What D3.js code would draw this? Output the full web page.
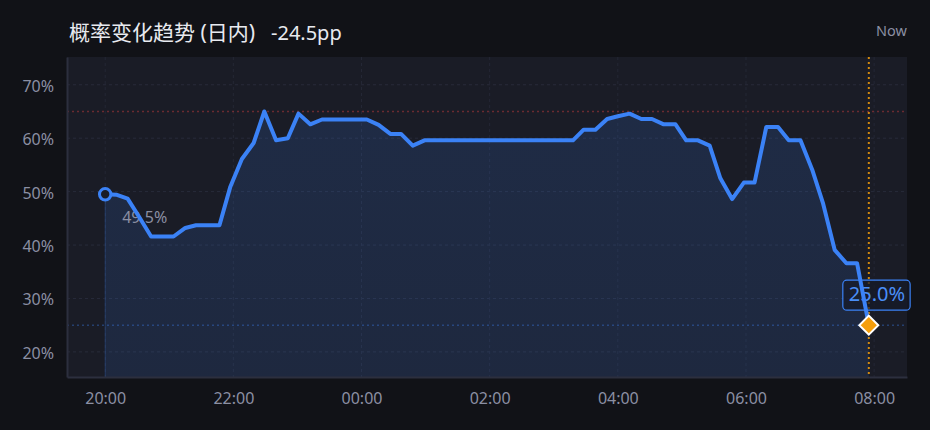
<!DOCTYPE html>
<html>
<head>
<meta charset="utf-8">
<script src="https://cdn.jsdelivr.net/npm/d3@7"></script>
<style>
  html, body { margin: 0; padding: 0; background: #111217; }
  svg { display: block; font-family: "Noto Sans", "Noto Sans CJK SC", sans-serif; }
</style>
</head>
<body>
<svg id="canvas" width="930" height="430"></svg>
<script>
// intraday samples
const times = [
  '20:00', '20:11', '20:21', '20:32', '20:43', '20:53', '21:04', '21:15', '21:25', '21:36',
  '21:47', '21:57', '22:08', '22:19', '22:29', '22:40', '22:51', '23:01', '23:12', '23:23',
  '23:33', '23:44', '23:55', '00:05', '00:16', '00:27', '00:37', '00:48', '00:59', '01:09',
  '01:20', '01:31', '01:41', '01:52', '02:03', '02:14', '02:24', '02:35', '02:46', '02:56',
  '03:07', '03:18', '03:28', '03:39', '03:50', '04:00', '04:11', '04:22', '04:32', '04:43',
  '04:54', '05:04', '05:15', '05:26', '05:36', '05:47', '05:58', '06:08', '06:19', '06:30',
  '06:40', '06:51', '07:02', '07:12', '07:23', '07:34', '07:44', '07:55'
]
const probs = [
  49.5, 49.4, 48.7, 45.2, 41.6, 41.6, 41.6, 43.2, 43.7, 43.7,
  43.7, 50.8, 56.1, 59.1, 65.0, 59.6, 60.0, 64.6, 62.6, 63.5,
  63.5, 63.5, 63.5, 63.5, 62.5, 60.8, 60.8, 58.6, 59.6, 59.6,
  59.6, 59.6, 59.6, 59.6, 59.6, 59.6, 59.6, 59.6, 59.6, 59.6,
  59.6, 59.6, 61.6, 61.6, 63.6, 64.1, 64.6, 63.6, 63.6, 62.6,
  62.6, 59.6, 59.6, 58.6, 52.5, 48.6, 51.7, 51.7, 62.1, 62.1,
  59.6, 59.6, 54.1, 47.9, 39.1, 36.6, 36.6, 25.0
]
const yTicks = [20, 30, 40, 50, 60, 70]
const titleText = '概率变化趋势 (日内)'
const nowText = 'Now'

const width = 930
const height = 430
const margin = { top: 57, right: 23, bottom: 53, left: 67 }

let canvas = d3.select('#canvas')

// times before noon belong to the next day
function parseTime(s) {
  let [h, m] = s.split(':').map(Number)
  return new Date(2024, 0, h >= 12 ? 1 : 2, h, m)
}

let data = times.map((t, i) => ({ time: parseTime(t), value: probs[i] }))
let first = data[0]
let last = data[data.length - 1]
let maxVal = d3.max(probs)

let span = last.time - first.time
let xScale = d3.scaleTime()
  .domain([new Date(+first.time - span * 0.05), new Date(+last.time + span * 0.05)])
  .range([margin.left, width - margin.right])

let yScale = d3.scaleLinear()
  .domain([15.3, 75.2])
  .range([height - margin.bottom, margin.top])

let plotW = width - margin.left - margin.right
let plotH = height - margin.top - margin.bottom
let bottomY = height - margin.bottom

// plot background
canvas.append('rect')
  .attr('x', margin.left)
  .attr('y', margin.top)
  .attr('width', plotW)
  .attr('height', plotH)
  .attr('fill', '#1a1c26')

let defs = canvas.append('defs')
let grad = defs.append('linearGradient')
  .attr('id', 'areaFill')
  .attr('x1', 0).attr('y1', 0).attr('x2', 0).attr('y2', 1)
grad.append('stop').attr('offset', '0%').attr('stop-color', '#3b82f6').attr('stop-opacity', 0.15)
grad.append('stop').attr('offset', '100%').attr('stop-color', '#3b82f6').attr('stop-opacity', 0.12)

// grid
let xTickVals = xScale.ticks(d3.timeHour.every(2))

canvas.append('g')
  .selectAll('line')
  .data(yTicks)
  .enter()
  .append('line')
  .attr('x1', margin.left)
  .attr('x2', width - margin.right)
  .attr('y1', (d) => yScale(d))
  .attr('y2', (d) => yScale(d))
  .attr('stroke', '#282b3a')
  .attr('stroke-dasharray', '3,3')

canvas.append('g')
  .selectAll('line')
  .data(xTickVals)
  .enter()
  .append('line')
  .attr('x1', (d) => xScale(d))
  .attr('x2', (d) => xScale(d))
  .attr('y1', margin.top)
  .attr('y2', bottomY)
  .attr('stroke', '#242735')
  .attr('stroke-dasharray', '3,3')

// area under the line
let area = d3.area()
  .x((d) => xScale(d.time))
  .y0(bottomY)
  .y1((d) => yScale(d.value))

canvas.append('path')
  .datum(data)
  .attr('d', area)
  .attr('fill', 'url(#areaFill)')

canvas.append('line')
  .attr('x1', xScale(first.time))
  .attr('x2', xScale(first.time))
  .attr('y1', yScale(first.value))
  .attr('y2', bottomY)
  .attr('stroke', '#3b82f6')
  .attr('stroke-opacity', 0.25)
  .attr('stroke-width', 1)

// reference lines: session high, current value, now
canvas.append('line')
  .attr('x1', margin.left)
  .attr('x2', width - margin.right)
  .attr('y1', yScale(maxVal))
  .attr('y2', yScale(maxVal))
  .attr('stroke', '#ef4444')
  .attr('stroke-opacity', 0.38)
  .attr('stroke-width', 1.5)
  .attr('stroke-dasharray', '2,3')

canvas.append('line')
  .attr('x1', margin.left)
  .attr('x2', width - margin.right)
  .attr('y1', yScale(last.value))
  .attr('y2', yScale(last.value))
  .attr('stroke', '#3b82f6')
  .attr('stroke-opacity', 0.35)
  .attr('stroke-width', 1.5)
  .attr('stroke-dasharray', '2,3')

canvas.append('line')
  .attr('x1', xScale(last.time))
  .attr('x2', xScale(last.time))
  .attr('y1', margin.top)
  .attr('y2', bottomY)
  .attr('stroke', '#f59e0b')
  .attr('stroke-opacity', 0.85)
  .attr('stroke-width', 2)
  .attr('stroke-dasharray', '2,3')

// axes
let yAxis = d3.axisLeft(yScale)
  .tickValues(yTicks)
  .tickSize(0)
  .tickPadding(13)
  .tickFormat((d) => d + '%')

let xAxis = d3.axisBottom(xScale)
  .tickValues(xTickVals)
  .tickSize(0)
  .tickPadding(16)
  .tickFormat(d3.timeFormat('%H:%M'))

let gy = canvas.append('g')
  .attr('transform', 'translate(' + margin.left + ',0)')
  .call(yAxis)
let gx = canvas.append('g')
  .attr('transform', 'translate(0,' + bottomY + ')')
  .call(xAxis)

gy.selectAll('text').attr('dy', '0.4em')

;[gx, gy].forEach((g) => {
  g.select('.domain').attr('stroke', '#2c2f3e').attr('stroke-width', 2)
  g.selectAll('text')
    .attr('fill', '#8b8fa3')
    .style('font-size', '16px')
    .style('font-family', '"Noto Sans", sans-serif')
})

// start marker label
canvas.append('text')
  .attr('x', xScale(first.time) + 17)
  .attr('y', yScale(first.value) + 29)
  .attr('fill', '#8b8fa3')
  .style('font-size', '16px')
  .text(first.value.toFixed(1) + '%')

// current value badge
let badge = canvas.append('g')
let badgeText = badge.append('text')
  .attr('x', xScale(last.time) - 20)
  .attr('y', yScale(last.value) - 24)
  .attr('fill', '#4a8ef7')
  .style('font-size', '20px')
  .text(last.value.toFixed(1) + '%')
let bb = badgeText.node().getBBox()
badge.insert('rect', 'text')
  .attr('x', bb.x - 6)
  .attr('y', bb.y)
  .attr('width', bb.width + 11)
  .attr('height', bb.height + 3)
  .attr('rx', 4)
  .attr('fill', '#161a28')
  .attr('fill-opacity', 0.7)
  .attr('stroke', '#3b82f6')
  .attr('stroke-width', 1.2)

// the line
let line = d3.line()
  .x((d) => xScale(d.time))
  .y((d) => yScale(d.value))

canvas.append('path')
  .datum(data)
  .attr('d', line)
  .attr('fill', 'none')
  .attr('stroke', '#3b82f6')
  .attr('stroke-width', 4)
  .attr('stroke-linejoin', 'round')
  .attr('stroke-linecap', 'round')

canvas.append('circle')
  .attr('cx', xScale(first.time))
  .attr('cy', yScale(first.value))
  .attr('r', 5.7)
  .attr('fill', '#1a1c26')
  .attr('stroke', '#3b82f6')
  .attr('stroke-width', 3)

canvas.append('path')
  .attr('d', d3.symbol().type(d3.symbolSquare).size(180)())
  .attr('transform', 'translate(' + xScale(last.time) + ',' + yScale(last.value) + ') rotate(45)')
  .attr('fill', '#f59e0b')
  .attr('stroke', '#ffffff')
  .attr('stroke-width', 2)

// title and header
let change = last.value - first.value
canvas.append('text')
  .attr('x', 69)
  .attr('y', 40)
  .attr('fill', '#e8eaf0')
  .style('font-size', '21px')
  .text(titleText)
canvas.append('text')
  .attr('x', 271)
  .attr('y', 40)
  .attr('fill', '#e8eaf0')
  .style('font-size', '20px')
  .text(change.toFixed(1) + 'pp')

canvas.append('text')
  .attr('x', width - margin.right)
  .attr('y', 36)
  .attr('text-anchor', 'end')
  .attr('fill', '#8b8fa3')
  .style('font-size', '14.5px')
  .text(nowText)
</script>
</body>
</html>
